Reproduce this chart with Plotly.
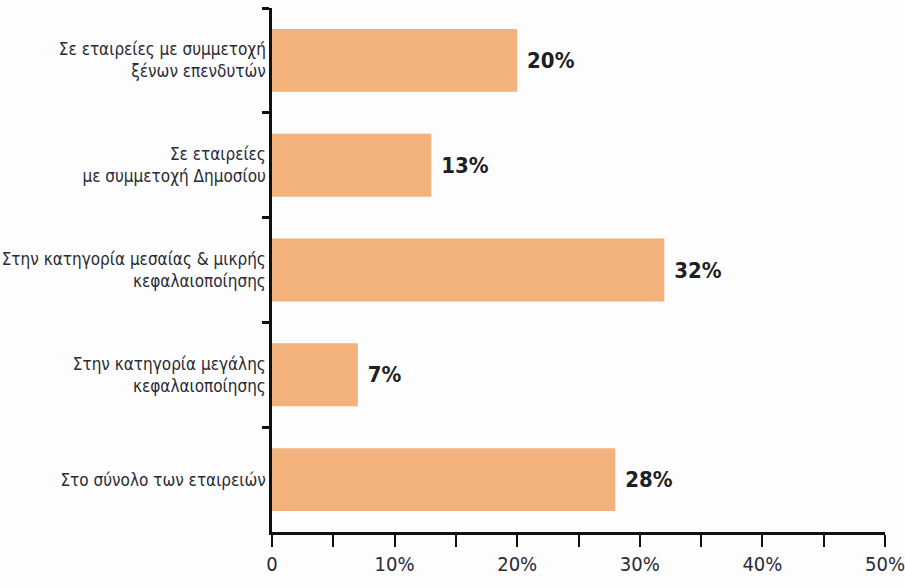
import plotly.graph_objects as go

categories = [
    "Σε εταιρείες με συμμετοχή<br>ξένων επενδυτών",
    "Σε εταιρείες<br>με συμμετοχή Δημοσίου",
    "Στην κατηγορία μεσαίας & μικρής<br>κεφαλαιοποίησης",
    "Στην κατηγορία μεγάλης<br>κεφαλαιοποίησης",
    "Στο σύνολο των εταιρειών",
]
values = [20, 13, 32, 7, 28]
value_labels = ["20%", "13%", "32%", "7%", "28%"]
x_tickvals = [0, 5, 10, 15, 20, 25, 30, 35, 40, 45, 50]
x_ticktext = ["0", "", "10%", "", "20%", "", "30%", "", "40%", "", "50%"]

FONT = "DejaVu Sans Condensed, sans-serif"

fig = go.Figure(
    go.Bar(
        x=values,
        y=categories,
        orientation="h",
        marker=dict(color="#F3B27B", line=dict(width=0)),
        width=0.6,
        text=value_labels,
        textposition="outside",
        textfont=dict(family=FONT, size=22, color="#1e1e24"),
        texttemplate="<b>\u00a0%{text}</b>",
        cliponaxis=False,
    )
)

fig.update_layout(
    width=905,
    height=588,
    margin=dict(l=272, r=20, t=8, b=56),
    paper_bgcolor="#fdfdfd",
    plot_bgcolor="#fdfdfd",
    showlegend=False,
    font=dict(family=FONT, color="#2a2a35"),
)

fig.update_xaxes(
    range=[0, 50],
    tickvals=x_tickvals,
    ticktext=x_ticktext,
    ticks="outside",
    ticklen=12,
    tickwidth=2,
    tickcolor="#111",
    showline=True,
    linewidth=3,
    linecolor="#111",
    showgrid=False,
    zeroline=False,
    automargin=False,
    ticklabeloverflow="allow",
    tickfont=dict(family=FONT, size=20, color="#2a2a35"),
)

fig.update_yaxes(
    autorange="reversed",
    tickson="boundaries",
    ticks="outside",
    ticklen=7,
    tickwidth=3,
    tickcolor="#111",
    showline=True,
    linewidth=2.5,
    linecolor="#111",
    showgrid=False,
    automargin=False,
    ticklabeloverflow="allow",
    tickfont=dict(family=FONT, size=17, color="#2a2a35"),
)

fig.write_html("out.html")
